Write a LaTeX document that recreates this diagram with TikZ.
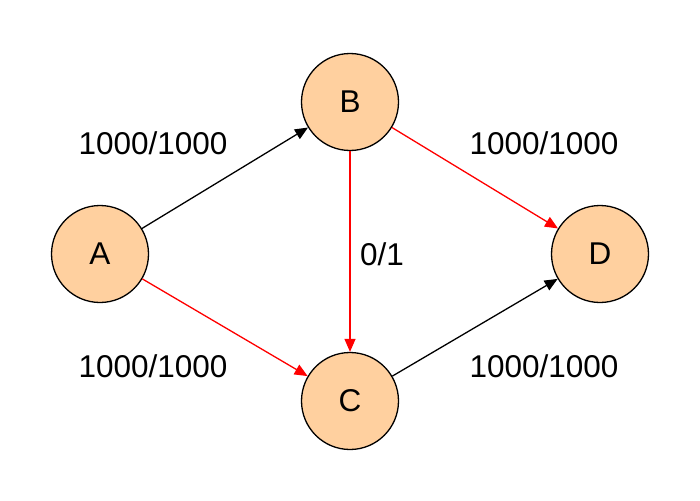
\documentclass[tikz,border=0pt]{standalone}
\usepackage{fontspec}
\setmainfont{Liberation Sans}
\usetikzlibrary{arrows.meta}
\definecolor{nodefill}{HTML}{FFD09F}
\begin{document}
\begin{tikzpicture}[x=1pt,y=-1pt,
  vert/.style={circle,draw=black,line width=1.3pt,fill=nodefill,minimum size=97pt,inner sep=0pt,font=\fontsize{31.5}{31.5}\selectfont},
  lbl/.style={font=\fontsize{31.5}{31.5}\selectfont,inner sep=0pt},
  edge/.style={line width=1.3pt,-{Triangle[length=13pt,width=11pt]}},
  flow/.style={edge,draw=red,fill=red}]
\useasboundingbox (0,0) rectangle (700,500);
\node[vert] (A) at (100,254) {A};
\node[vert] (B) at (350,102) {B};
\node[vert] (C) at (350,401) {C};
\node[vert] (D) at (600,254) {D};
\draw[edge] (A) -- (B);
\draw[flow] (A) -- (C);
\draw[flow] (B) -- (D);
\draw[flow] (B) -- (C);
\draw[edge] (C) -- (D);
\node[lbl] (l1) at (153,143) {1000/1000};
\node[lbl] (l2) at (153,366) {1000/1000};
\node[lbl] (l3) at (544,143) {1000/1000};
\node[lbl] (l4) at (544,366) {1000/1000};
\node[lbl] (l5) at (382,254) {0/1};
\end{tikzpicture}
\end{document}
